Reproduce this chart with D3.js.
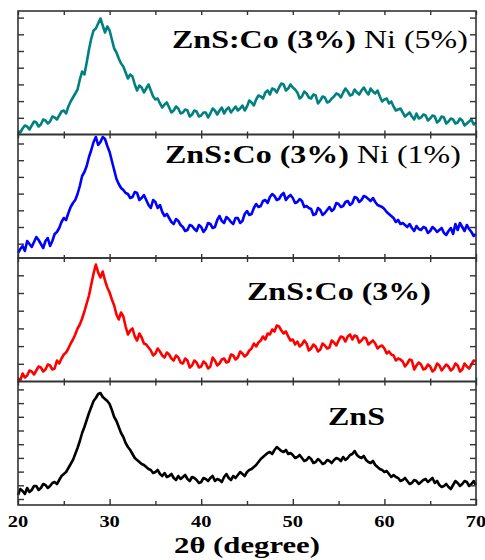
<!DOCTYPE html>
<html>
<head>
<meta charset="utf-8">
<script src="https://cdn.jsdelivr.net/npm/d3@7"></script>
<style>
  body { margin: 0; background: #fff; }
  .frame { fill: none; stroke: #333; stroke-width: 1.6; }
  .tick line { stroke: #333; stroke-width: 1.4; }
  .domain { display: none; }
  .trace { fill: none; stroke-width: 2.6; stroke-linejoin: round; }
</style>
</head>
<body>
<div id="chart"></div>
<script>
// scan range (2θ, degree), one value every 0.25 degree
const scanStart = 20;
const scanEnd = 70;

// intensities (a.u.), top panel first
const znsCoNi5 = [3, 2, 6, 9, 8, 5, 9, 13, 12, 8, 10, 15, 14, 11, 13, 18, 17, 15, 19, 23, 24, 21, 28, 33, 37, 41, 45, 55, 63, 60,
  72, 85, 96, 104, 106, 111, 116, 109, 102, 108, 104, 95, 86, 82, 76, 71, 68, 62, 56, 60, 58, 50, 44, 49, 47, 42, 46, 50, 44, 38,
  35, 36, 31, 27, 30, 32, 27, 22, 24, 28, 26, 21, 22, 25, 24, 18, 20, 24, 23, 18, 19, 22, 22, 17, 21, 26, 24, 20, 24, 27,
  21, 25, 27, 22, 25, 28, 24, 26, 29, 24, 28, 34, 32, 29, 35, 39, 38, 36, 42, 44, 40, 46, 45, 42, 47, 51, 50, 44, 46, 50,
  47, 45, 42, 36, 38, 43, 41, 37, 36, 40, 39, 31, 34, 38, 37, 32, 33, 36, 38, 41, 40, 37, 42, 46, 43, 39, 40, 45, 42, 40,
  44, 47, 43, 40, 46, 43, 41, 44, 38, 33, 35, 36, 31, 33, 28, 24, 25, 26, 22, 18, 20, 22, 18, 15, 21, 16, 17, 20, 19, 14,
  16, 19, 18, 12, 14, 18, 17, 11, 13, 16, 15, 11, 12, 16, 14, 9, 11, 13, 15, 10, 12];
const znsCoNi1 = [5, 9, 12, 7, 17, 14, 11, 16, 21, 18, 14, 10, 17, 20, 12, 17, 24, 26, 30, 36, 40, 38, 45, 51, 55, 58, 64, 72, 82, 86,
  92, 101, 108, 116, 121, 113, 116, 121, 119, 112, 106, 97, 88, 79, 74, 70, 68, 65, 64, 60, 61, 66, 65, 58, 60, 63, 58, 53, 50, 58,
  56, 50, 53, 46, 42, 44, 40, 36, 34, 39, 37, 33, 31, 27, 28, 33, 32, 29, 27, 33, 31, 26, 29, 35, 34, 30, 31, 38, 42, 37,
  35, 41, 39, 36, 34, 40, 40, 35, 37, 44, 47, 43, 44, 50, 54, 51, 52, 57, 58, 55, 61, 64, 62, 58, 59, 63, 65, 58, 61, 63,
  60, 55, 56, 59, 57, 51, 52, 50, 49, 43, 44, 50, 48, 43, 45, 48, 51, 47, 49, 55, 54, 51, 52, 56, 57, 53, 55, 61, 60, 56,
  58, 62, 61, 59, 57, 60, 56, 53, 52, 51, 49, 46, 44, 42, 40, 36, 38, 34, 35, 33, 31, 34, 30, 27, 32, 29, 28, 31, 30, 25,
  27, 31, 29, 26, 28, 30, 25, 23, 27, 30, 24, 34, 28, 35, 31, 27, 33, 29, 26, 22, 24];
const znsCo = [3, 1, 8, 4, 6, 11, 10, 7, 11, 15, 14, 10, 12, 17, 16, 12, 13, 21, 18, 23, 27, 29, 33, 38, 42, 47, 53, 57, 63, 70,
  78, 86, 97, 108, 117, 109, 104, 110, 101, 94, 89, 82, 76, 67, 62, 69, 65, 55, 47, 51, 53, 45, 41, 48, 44, 38, 37, 34, 31, 26,
  28, 33, 30, 26, 24, 29, 27, 23, 21, 26, 24, 19, 18, 23, 21, 14, 16, 21, 19, 14, 15, 20, 18, 13, 15, 24, 21, 16, 18, 22,
  23, 19, 20, 27, 26, 22, 24, 30, 28, 25, 27, 31, 33, 38, 35, 39, 41, 45, 42, 48, 47, 52, 50, 56, 55, 51, 48, 50, 45, 41,
  42, 37, 40, 35, 37, 41, 38, 31, 33, 37, 35, 30, 32, 38, 36, 33, 34, 41, 39, 36, 41, 45, 44, 40, 45, 47, 42, 46, 45, 39,
  41, 44, 43, 37, 39, 41, 38, 33, 35, 36, 33, 28, 30, 27, 26, 21, 23, 22, 20, 15, 18, 22, 21, 12, 16, 19, 17, 12, 13, 17,
  15, 10, 12, 18, 16, 11, 14, 17, 15, 11, 13, 18, 16, 10, 12, 18, 15, 13, 17, 21, 20];
const zns = [10, 16, 14, 11, 17, 13, 15, 19, 19, 15, 17, 21, 20, 17, 19, 22, 23, 21, 25, 29, 31, 33, 37, 41, 45, 51, 57, 64, 72, 78,
  85, 92, 98, 104, 107, 111, 112, 108, 106, 104, 101, 95, 88, 84, 78, 72, 68, 62, 58, 55, 51, 47, 45, 43, 41, 40, 38, 36, 35, 32,
  33, 35, 31, 29, 32, 28, 29, 31, 27, 25, 29, 26, 28, 30, 26, 24, 28, 27, 25, 22, 23, 27, 26, 24, 27, 29, 24, 26, 25, 23,
  28, 31, 27, 25, 29, 27, 30, 33, 31, 29, 33, 35, 36, 38, 40, 43, 46, 48, 50, 52, 53, 51, 55, 58, 56, 54, 53, 55, 51, 52,
  50, 47, 48, 50, 47, 44, 45, 48, 46, 42, 43, 46, 44, 41, 42, 45, 44, 42, 45, 47, 46, 44, 48, 45, 47, 50, 51, 54, 50, 48,
  47, 49, 45, 43, 42, 44, 40, 38, 36, 35, 33, 34, 31, 28, 30, 28, 27, 24, 25, 27, 24, 21, 22, 25, 24, 21, 23, 25, 26, 23,
  25, 27, 22, 24, 20, 18, 19, 21, 18, 16, 20, 24, 22, 19, 21, 24, 23, 19, 21, 24, 20];

const seriesList = [znsCoNi5, znsCoNi1, znsCo, zns];
const seriesColors = ['#008080', '#0000ff', '#ff0000', '#000000'];
// sample names: [bold part, plain part]
const sampleLabels = [['ZnS:Co (3%)', ' Ni (5%)'], ['ZnS:Co (3%)', ' Ni (1%)'], ['ZnS:Co (3%)', ''], ['ZnS', '']];

const xMajorTicks = [20, 30, 40, 50, 60, 70];
const xMinorTicks = [25, 35, 45, 55, 65];
const yTickLists = [
  [16.7, 33.4, 50.1, 66.8, 83.5, 100.2, 116.9],
  [14.3, 31, 47.7, 64.4, 81.1, 97.8, 114.5],
  [17.7, 35.4, 53.1, 70.8, 88.5, 106.2],
  [6, 19.7, 33.4, 47.1, 60.8, 74.5, 88.2, 101.9, 115.6]
];

// ***************layout*******************
const width = 485;
const height = 560;
const paddingLeft = 18;
const paddingRight = 9;
const paddingTop = 11;
const paddingBottom = 55;
const panelH = (height - paddingTop - paddingBottom) / seriesList.length;
const stretch = 1.28; // the figure's text is widened horizontally
const labelPos = [[172, 48], [165, 163], [247, 300], [328, 425]];

const xScale = d3.scaleLinear()
  .domain([scanStart, scanEnd])
  .range([paddingLeft, width - paddingRight]);

const svg = d3.select('#chart').append('svg')
  .attr('width', width)
  .attr('height', height)
  .style('font-family', '"Liberation Serif", "Times New Roman", serif');

seriesList.forEach((values, i) => {
  const top = paddingTop + i * panelH;
  const bottom = top + panelH;
  const yScale = d3.scaleLinear().domain([0, panelH]).range([bottom, top]);
  const step = (scanEnd - scanStart) / (values.length - 1);

  const g = svg.append('g').attr('class', 'panel');

  // 数据曲线
  const line = d3.line()
    .x((d, k) => xScale(scanStart + k * step))
    .y((d) => yScale(d));
  g.append('path')
    .datum(values)
    .attr('class', 'trace')
    .attr('stroke', seriesColors[i])
    .attr('d', line);

  // x ticks: bottom (pointing up) and top (pointing down)
  const isLast = i === seriesList.length - 1;
  g.append('g')
    .attr('transform', `translate(0,${bottom})`)
    .call(d3.axisBottom(xScale).tickValues(xMajorTicks).tickSize(isLast ? -6 : -4).tickFormat(''));
  g.append('g')
    .attr('transform', `translate(0,${bottom})`)
    .call(d3.axisBottom(xScale).tickValues(xMinorTicks).tickSize(isLast ? -4 : -3).tickFormat(''));
  g.append('g')
    .attr('transform', `translate(0,${top})`)
    .call(d3.axisTop(xScale).tickValues(xMajorTicks.concat(xMinorTicks)).tickSize(-4).tickFormat(''));

  // y ticks on both sides, no labels
  g.append('g')
    .attr('transform', `translate(${paddingLeft},0)`)
    .call(d3.axisLeft(yScale).tickValues(yTickLists[i]).tickSize(-6).tickFormat(''));
  g.append('g')
    .attr('transform', `translate(${width - paddingRight},0)`)
    .call(d3.axisRight(yScale).tickValues(yTickLists[i]).tickSize(-6).tickFormat(''));

  g.append('rect')
    .attr('class', 'frame')
    .attr('x', paddingLeft)
    .attr('y', top)
    .attr('width', width - paddingLeft - paddingRight)
    .attr('height', panelH);

  // 样品名称
  const label = g.append('text')
    .attr('transform', `translate(${labelPos[i][0]},${labelPos[i][1]}) scale(${stretch},1)`)
    .attr('font-size', 25)
    .attr('fill', '#000');
  label.append('tspan').attr('font-weight', 'bold').text(sampleLabels[i][0]);
  if (sampleLabels[i][1]) label.append('tspan').text(sampleLabels[i][1]);
});

// x tick labels
const plotBottom = paddingTop + seriesList.length * panelH;
svg.append('g')
  .selectAll('text')
  .data(xMajorTicks)
  .enter()
  .append('text')
  .attr('transform', (d) => `translate(${xScale(d)},${plotBottom + 22}) scale(${stretch},1)`)
  .attr('text-anchor', 'middle')
  .attr('font-size', 16)
  .attr('font-weight', 'bold')
  .text((d) => d);

svg.append('text')
  .attr('transform', `translate(${(paddingLeft + width - paddingRight) / 2},${plotBottom + 48}) scale(${stretch},1)`)
  .attr('text-anchor', 'middle')
  .attr('font-size', 24)
  .attr('font-weight', 'bold')
  .text('2θ (degree)');
</script>
</body>
</html>
